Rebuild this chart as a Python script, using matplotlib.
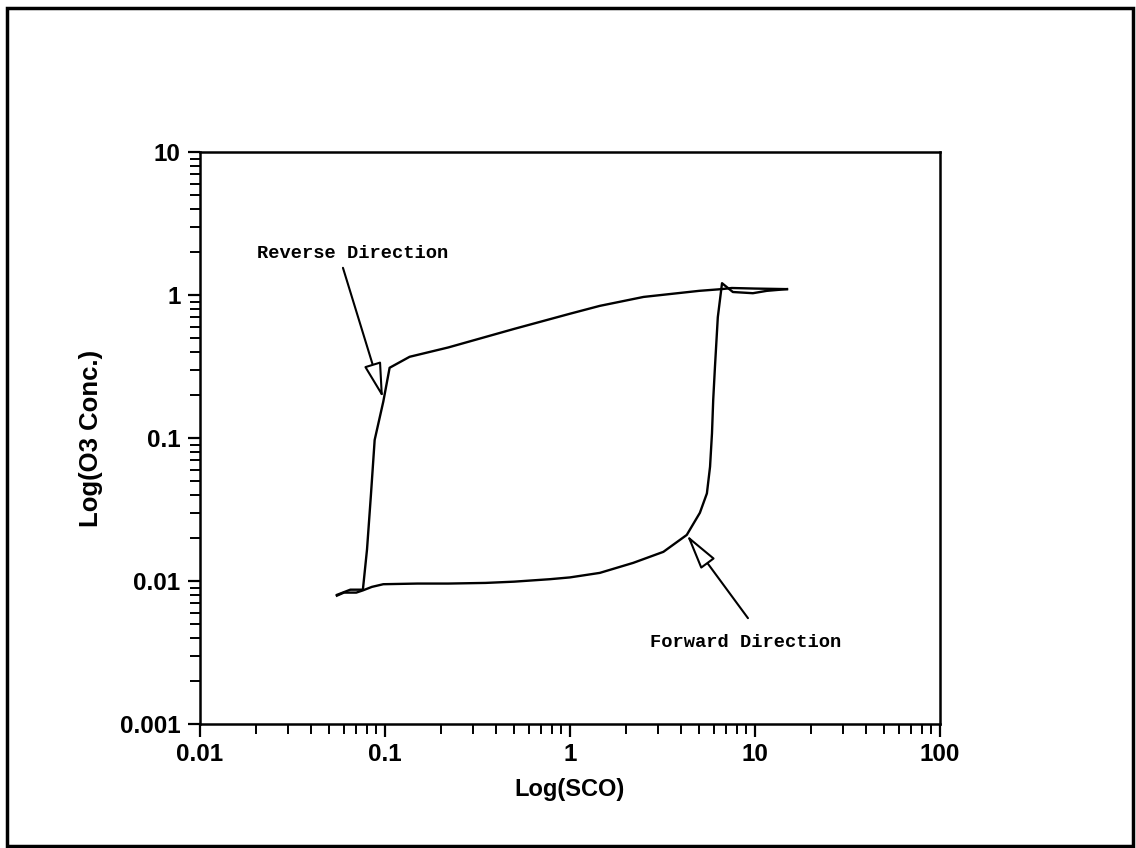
import matplotlib.pyplot as plt
from matplotlib.patches import Rectangle
from matplotlib.ticker import LogLocator, FixedLocator, FixedFormatter, NullFormatter

# forward sweep: low-ozone branch, then the jump up to the high state
sco_fwd = [0.055, 0.060, 0.070, 0.076, 0.085, 0.098, 0.15, 0.22, 0.35, 0.5, 0.78, 1.0,
           1.45, 2.2, 3.2, 4.28, 5.04, 5.5, 5.72, 5.86, 5.95, 6.08, 6.3, 6.64,
           7.6, 9.75, 11.6, 14.9]
o3_fwd = [0.0079, 0.0083, 0.0083, 0.0086, 0.0091, 0.0095, 0.0096, 0.0096, 0.0097, 0.0099, 0.0103, 0.0106,
          0.0114, 0.0134, 0.0160, 0.021, 0.030, 0.041, 0.063, 0.108, 0.185, 0.314, 0.70, 1.21,
          1.05, 1.03, 1.07, 1.10]

# reverse sweep: high-ozone branch back down to the low state
sco_rev = [14.9, 10.0, 7.5, 6.6, 5.0, 2.5, 1.45, 1.0, 0.5, 0.22, 0.136, 0.106,
           0.098, 0.088, 0.084, 0.080, 0.076, 0.065, 0.055]
o3_rev = [1.10, 1.11, 1.12, 1.10, 1.07, 0.97, 0.84, 0.74, 0.58, 0.43, 0.37, 0.31,
          0.18, 0.097, 0.04, 0.0166, 0.0087, 0.0087, 0.0080]

x_ticks = [0.01, 0.1, 1, 10, 100]
x_labels = ['0.01', '0.1', '1', '10', '100']
y_ticks = [0.001, 0.01, 0.1, 1, 10]
y_labels = ['0.001', '0.01', '0.1', '1', '10']

# arrows: (tail, tip)
rev_arrow = ((0.0593, 1.55), (0.0976, 0.19))
fwd_arrow = ((9.17, 0.0055), (4.28, 0.021))

lab_font = 'Liberation Sans'
note_font = 'Liberation Mono'

fig = plt.figure(figsize=(11.36, 8.48), dpi=100)
ax = fig.add_axes([0.176, 0.1462, 0.6514, 0.6745])

ax.plot(sco_fwd, o3_fwd, color='black', lw=1.7)
ax.plot(sco_rev, o3_rev, color='black', lw=1.7)

ax.set_xscale('log')
ax.set_yscale('log')
ax.set_xlim(0.01, 100)
ax.set_ylim(0.001, 10)

ax.xaxis.set_major_locator(FixedLocator(x_ticks))
ax.xaxis.set_major_formatter(FixedFormatter(x_labels))
ax.yaxis.set_major_locator(FixedLocator(y_ticks))
ax.yaxis.set_major_formatter(FixedFormatter(y_labels))
ax.xaxis.set_minor_locator(LogLocator(base=10, subs=range(2, 10), numticks=20))
ax.yaxis.set_minor_locator(LogLocator(base=10, subs=range(2, 10), numticks=20))
ax.xaxis.set_minor_formatter(NullFormatter())
ax.yaxis.set_minor_formatter(NullFormatter())

ax.tick_params(which='major', direction='out', length=9, width=1.6, pad=5,
               top=False, right=False, labelsize=17.5)
ax.tick_params(which='minor', direction='out', length=7, width=1.4,
               top=False, right=False)
for lab in ax.get_xticklabels() + ax.get_yticklabels():
    lab.set_fontfamily(lab_font)
    lab.set_fontweight('bold')
for sp in ax.spines.values():
    sp.set_linewidth(1.8)

ax.set_xlabel('Log(SCO)', fontsize=17, family=lab_font, fontweight='bold', labelpad=8)
ax.set_ylabel('Log(O3 Conc.)', fontsize=18.5, family=lab_font, fontweight='bold', labelpad=12)

arrow_kw = dict(arrowstyle='-|>,head_length=2.2,head_width=0.55', mutation_scale=10,
                fc='white', ec='black', lw=1.5, shrinkA=0, shrinkB=0)
for tail, tip in (rev_arrow, fwd_arrow):
    ax.annotate('', xy=tip, xytext=tail, arrowprops=arrow_kw)

ax.text(0.077, 0.822, 'Reverse Direction', transform=ax.transAxes, fontsize=13.5,
        family=note_font, fontweight='bold', va='center', ha='left')
ax.text(0.608, 0.142, 'Forward Direction', transform=ax.transAxes, fontsize=13.5,
        family=note_font, fontweight='bold', va='center', ha='left')

# page border
fig.patches.append(Rectangle((0.006, 0.002), 0.991, 0.989, transform=fig.transFigure,
                             fill=False, ec='black', lw=2.5))

fig.savefig('out.png', dpi=100)
